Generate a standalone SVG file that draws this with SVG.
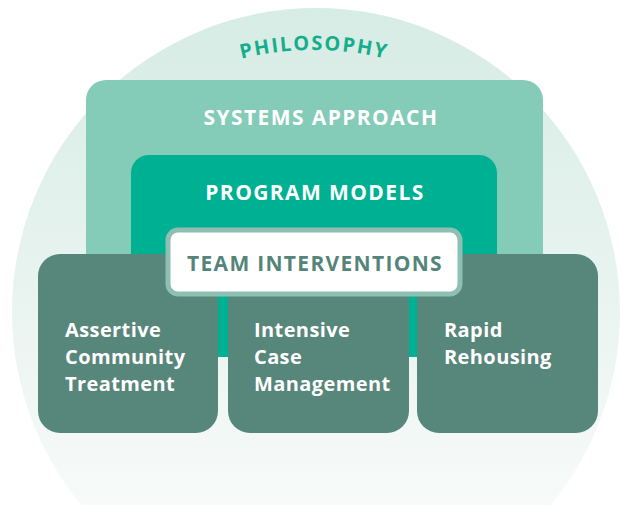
<svg xmlns="http://www.w3.org/2000/svg" width="621" height="505" viewBox="0 0 621 505">
<style>
.t{font-family:"Open Sans",Lato,"Liberation Sans",sans-serif;font-weight:700}
.hdr{fill:#ffffff;font-size:21px;text-anchor:middle;letter-spacing:1.4px}
.card{fill:#57867a}
.ct{fill:#ffffff;font-size:20px;letter-spacing:0.4px}
</style>
<defs>
<linearGradient id="bg" x1="0" y1="0" x2="0" y2="1" gradientUnits="objectBoundingBox">
<stop offset="0" stop-color="#d6ece4"/>
<stop offset="0.55" stop-color="#ecf5f2"/>
<stop offset="0.85" stop-color="#f9fbfa"/>
</linearGradient>
<path id="arc" d="M194,74.7 A304,304 0 0 1 434,74.7"/>
</defs>
<g id="philosophy">
<circle cx="316" cy="312" r="304" fill="url(#bg)"/>
<text class="t" font-size="20" fill="#16ad8c" letter-spacing="1.75"><textPath href="#arc" startOffset="50%" text-anchor="middle">PHILOSOPHY</textPath></text>
</g>
<g id="systems">
<rect x="86" y="80" width="457" height="200" rx="20" fill="#84cbb8"/>
<text class="t hdr" x="321" y="125">SYSTEMS APPROACH</text>
</g>
<g id="programs">
<rect x="131" y="155" width="366" height="202" rx="18" fill="#00b092"/>
<text class="t hdr" x="315" y="200">PROGRAM MODELS</text>
</g>
<g id="act">
<rect class="card" x="38" y="254" width="180" height="179" rx="22"/>
<text class="t ct" x="65" y="337">Assertive</text>
<text class="t ct" x="65" y="364">Community</text>
<text class="t ct" x="65" y="391">Treatment</text>
</g>
<g id="icm">
<rect class="card" x="228" y="254" width="181" height="179" rx="22"/>
<text class="t ct" x="254" y="337">Intensive</text>
<text class="t ct" x="254" y="364">Case</text>
<text class="t ct" x="254" y="391">Management</text>
</g>
<g id="rrh">
<rect class="card" x="417" y="254" width="181" height="179" rx="22"/>
<text class="t ct" x="444" y="337">Rapid</text>
<text class="t ct" x="444" y="364">Rehousing</text>
</g>
<g id="team">
<rect x="168" y="230" width="292" height="64" rx="10" fill="#ffffff" stroke="#8fbfb2" stroke-width="5"/>
<text class="t" x="315" y="271" font-size="21" fill="#55857a" text-anchor="middle" letter-spacing="1.3">TEAM INTERVENTIONS</text>
</g>
<g id="connectors"></g>
</svg>
